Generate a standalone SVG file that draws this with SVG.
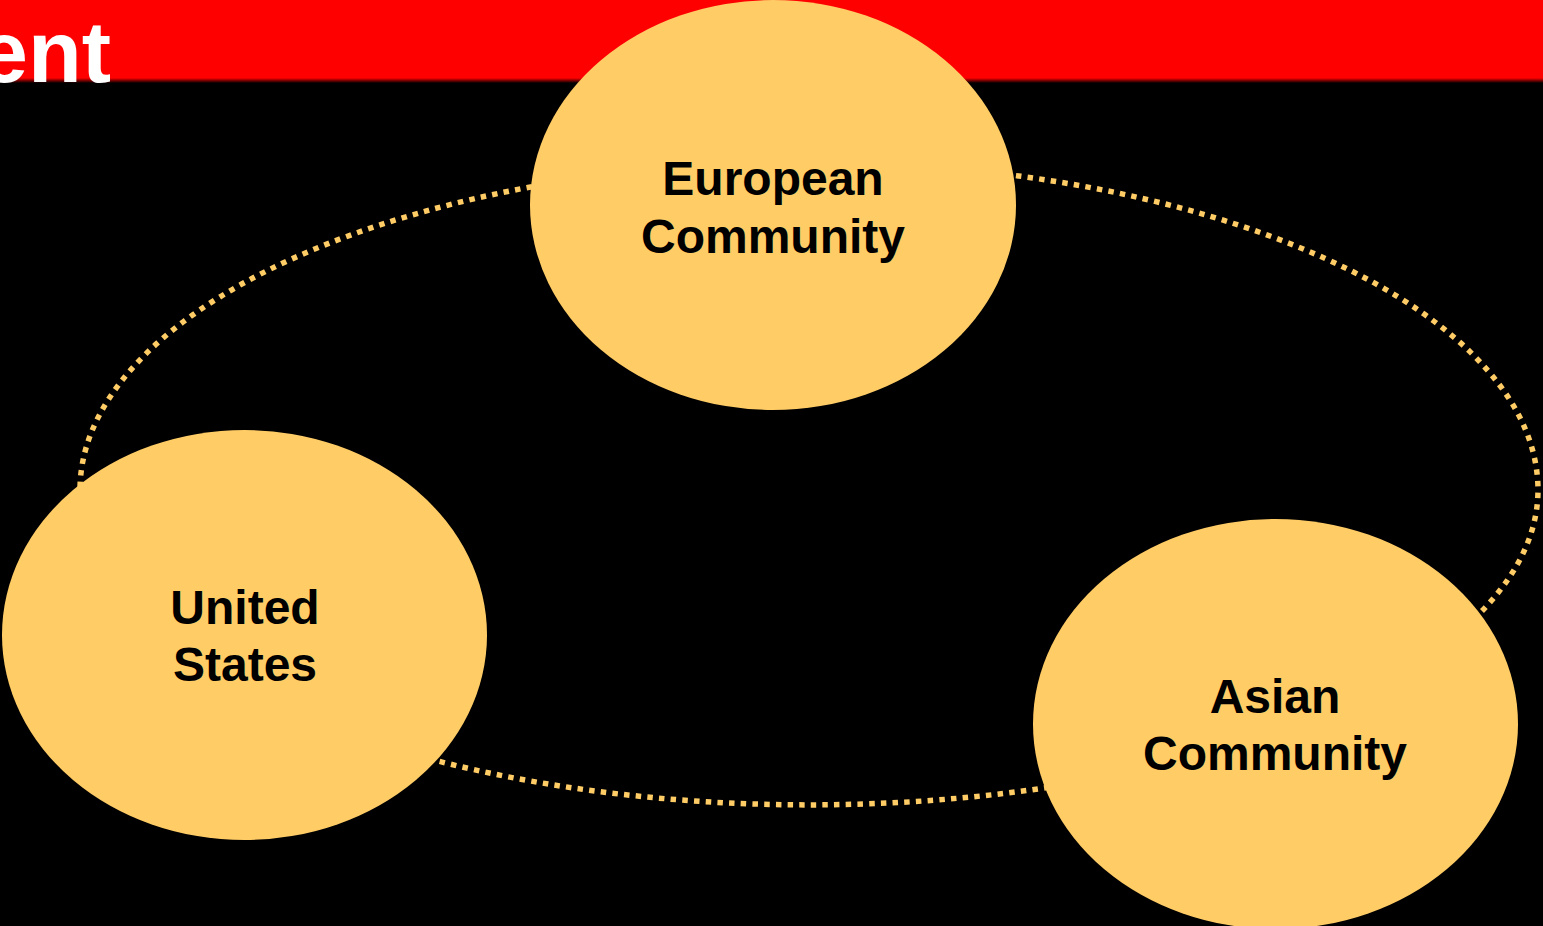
<svg xmlns="http://www.w3.org/2000/svg" width="1543" height="926" viewBox="0 0 1543 926">
  <defs>
    <linearGradient id="shade" x1="0" y1="0" x2="0" y2="1">
      <stop offset="0" stop-color="#FF0000"/>
      <stop offset="1" stop-color="#000000"/>
    </linearGradient>
  </defs>
  <style>
    .node { fill: #FFCC66; stroke: none; }
    .label { font-family: "Liberation Sans", Arial, sans-serif; font-weight: bold; font-size: 48px; fill: #000000; text-anchor: middle; }
    .link { fill: none; stroke: #FFCC66; stroke-width: 5.5; stroke-dasharray: 5.5 6.2; }
    .title { font-family: "Liberation Sans", Arial, sans-serif; font-weight: bold; font-size: 88px; fill: #FFFFFF; text-anchor: end; }
  </style>
  <rect x="0" y="0" width="1543" height="926" fill="#000000"/>
  <g id="header">
    <rect x="0" y="0" width="1543" height="78" fill="#FF0000"/>
    <rect x="0" y="78" width="1543" height="5" fill="url(#shade)"/>
    <text class="title" x="111" y="82">ent</text>
  </g>
  <g id="connectors">
    <path class="link" d="M 80 490 A 729 315 0 0 0 1538 490 A 729 328 0 0 0 80 490 Z"/>
  </g>
  <g id="european-community">
    <ellipse class="node" cx="773" cy="205" rx="243" ry="205"/>
    <text class="label" x="773" y="195">European</text>
    <text class="label" x="773" y="253">Community</text>
  </g>
  <g id="united-states">
    <ellipse class="node" cx="244.5" cy="635" rx="242.5" ry="205"/>
    <text class="label" x="245" y="624">United</text>
    <text class="label" x="245" y="681">States</text>
  </g>
  <g id="asian-community">
    <ellipse class="node" cx="1275.5" cy="724" rx="242.5" ry="205"/>
    <text class="label" x="1275" y="713">Asian</text>
    <text class="label" x="1275" y="770">Community</text>
  </g>
</svg>
